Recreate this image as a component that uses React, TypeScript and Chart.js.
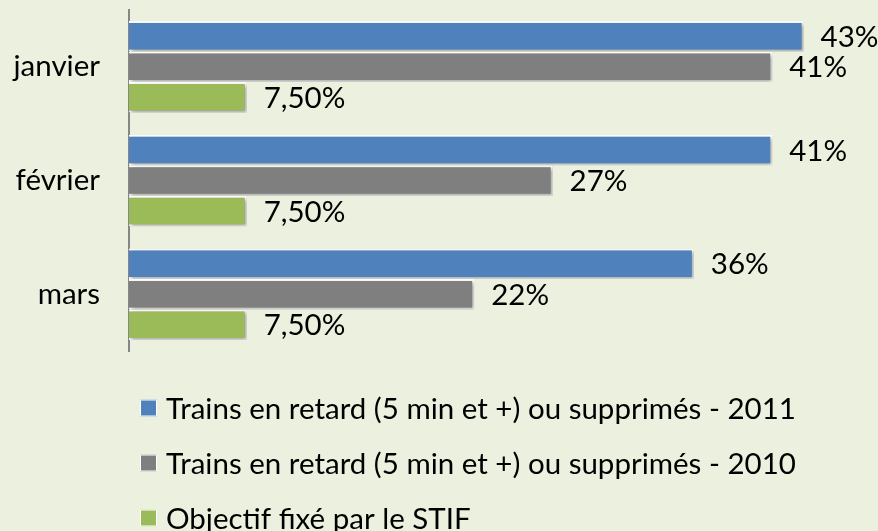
import React, { useEffect, useRef } from "react";
import { Chart, registerables } from "chart.js";

Chart.register(...registerables);

const categories = ["janvier", "février", "mars"];
const seriesNames = [
  "Trains en retard (5 min et +) ou supprimés - 2011",
  "Trains en retard (5 min et +) ou supprimés - 2010",
  "Objectif fixé par le STIF",
];
const values2011 = [43, 41, 36];
const values2010 = [41, 27, 22];
const objectif = [7.5, 7.5, 7.5];
const seriesDecimals = [0, 0, 2];
const seriesColors = ["#4F81BD", "#7F7F7F", "#9BBB59"];

const FONT = "Lato, 'Open Sans', sans-serif";
const FONT_SIZE = 29.5;

function fmt(v: number, dec: number) {
  return v.toFixed(dec).replace(".", ",") + "%";
}

const shadowPlugin = {
  id: "barShadow",
  beforeDatasetsDraw(chart: any) {
    const ctx = chart.ctx;
    ctx.save();
    ctx.shadowColor = "rgba(0,0,0,0.35)";
    ctx.shadowBlur = 4;
    ctx.shadowOffsetX = 2;
    ctx.shadowOffsetY = 2;
  },
  afterDatasetsDraw(chart: any) {
    chart.ctx.restore();
  },
};

const labelPlugin = {
  id: "valueLabels",
  afterDraw(chart: any) {
    const ctx = chart.ctx;
    ctx.save();
    ctx.font = `${FONT_SIZE}px ${FONT}`;
    ctx.fillStyle = "#000";
    ctx.textAlign = "left";
    ctx.textBaseline = "middle";
    chart.data.datasets.forEach((ds: any, i: number) => {
      const meta = chart.getDatasetMeta(i);
      meta.data.forEach((bar: any, j: number) => {
        ctx.fillText(fmt(ds.data[j], seriesDecimals[i]), bar.x + 17, bar.y + 1);
      });
    });
    // legend
    const area = chart.chartArea;
    chart.data.datasets.forEach((ds: any, i: number) => {
      const cy = area.bottom + 57 + i * 55;
      const sx = area.left + 11;
      const sz = 17;
      ctx.fillStyle = ds.backgroundColor;
      ctx.fillRect(sx, cy - sz / 2, sz, sz);
      ctx.strokeStyle = "#ffffff";
      ctx.lineWidth = 1;
      ctx.strokeRect(sx + 0.5, cy - sz / 2 + 0.5, sz - 1, sz - 1);
      ctx.fillStyle = "#000";
      ctx.fillText(ds.label, sx + 26, cy + 1);
    });
    ctx.restore();
  },
};

export default function App() {
  const ref = useRef<HTMLCanvasElement>(null);
  useEffect(() => {
    if (!ref.current) return;
    const datasetsValues = [values2011, values2010, objectif];
    const chart = new Chart(ref.current, {
      type: "bar",
      data: {
        labels: categories,
        datasets: datasetsValues.map((d, i) => ({
          label: seriesNames[i],
          data: d,
          backgroundColor: seriesColors[i],
          borderColor: "#ffffff",
          borderWidth: 2,
          categoryPercentage: 0.805,
          barPercentage: 1.0,
        })),
      },
      options: {
        indexAxis: "y",
        animation: false,
        responsive: false,
        layout: { padding: { top: 10, right: 43, bottom: 180, left: 0 } },
        plugins: { legend: { display: false }, tooltip: { enabled: false } },
        scales: {
          x: { display: false, min: 0, max: 45 },
          y: {
            grid: { display: false, drawTicks: false },
            border: { display: true, color: "#868686", width: 2 },
            ticks: {
              padding: 29,
              color: "#000",
              font: { family: FONT, size: FONT_SIZE },
            },
            afterFit(scale: any) {
              scale.width = 129;
              scale.paddingTop = 0;
              scale.paddingBottom = 0;
            },
          },
        },
      },
      plugins: [shadowPlugin, labelPlugin],
    });
    return () => chart.destroy();
  }, []);
  return (
    <div
      style={{
        position: "fixed",
        left: 0,
        top: 0,
        width: 878,
        height: 531,
        background: "#EBF1DE",
      }}
    >
      <canvas ref={ref} width={878} height={531} />
    </div>
  );
}
